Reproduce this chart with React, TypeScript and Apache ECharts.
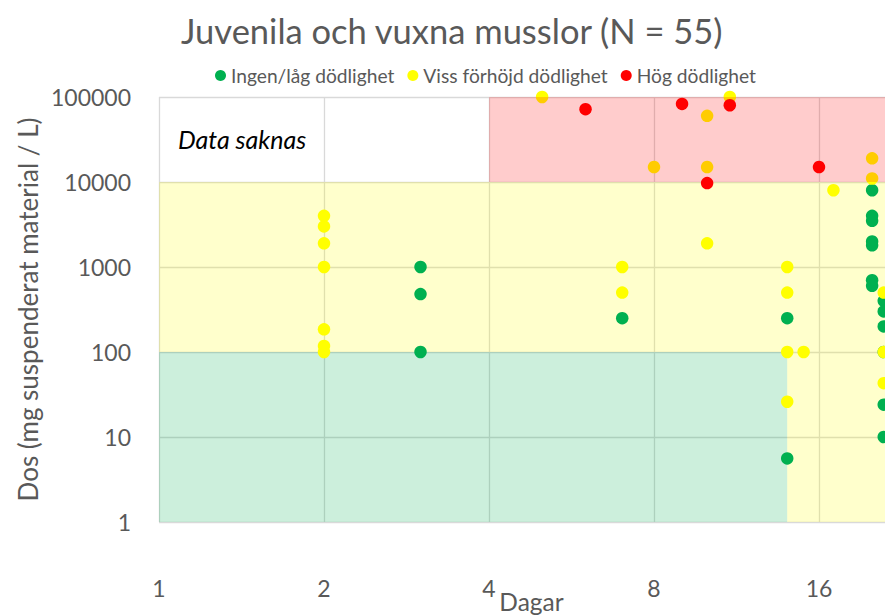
import React, { useEffect, useRef } from "react";
import * as echarts from "echarts";

const titleText = "Juvenila och vuxna musslor (N = 55)";
const xAxisName = "Dagar";
const yAxisName = "Dos (mg suspenderat material / L)";
const noDataText = "Data saknas";

const seriesNames = ["Ingen/låg dödlighet", "Viss förhöjd dödlighet", "Hög dödlighet"];
const seriesColors = ["#00B050", "#FFFF00", "#FF0000"];

const greenDays = [3, 3, 3, 7, 14, 14, 20, 20, 20, 20, 20, 20, 20, 21, 21, 21, 21, 21, 21];
const greenDoses = [1000, 480, 100, 250, 250, 5.6, 8000, 4000, 3500, 2000, 1800, 700, 600, 400, 300, 200, 100, 24, 10];

const yellowDays = [2, 2, 2, 2, 2, 2, 2, 5, 7, 7, 8, 10, 10, 10, 11, 14, 14, 14, 14, 15, 17, 20, 20, 21, 21, 21];
const yellowDoses = [4000, 3000, 1900, 1000, 185, 118, 100, 100000, 1000, 500, 15000, 60000, 15000, 1900, 100000, 1000, 500, 100, 26, 100, 8000, 19000, 11000, 500, 100, 43];

const redDays = [6, 9, 10, 11, 16];
const redDoses = [72000, 83000, 9700, 80000, 15000];

// zones: [day0, dose0, day1, dose1]
const lowZone = [[1, 1, 14, 100]];
const midZone = [[1, 100, 32, 10000], [14, 1, 32, 100]];
const highZone = [[4, 10000, 32, 100000]];

const xTickLabels = [1, 2, 4, 8, 16];
const xMin = 1;
const xMax = 32;
const yMin = 1;
const yMax = 100000;

const zoneColors = ["rgba(0,176,80,0.2)", "rgba(255,255,0,0.2)", "rgba(255,0,0,0.2)"];

const FONT = "Lato, 'Open Sans', sans-serif";
const TEXT_COLOR = "#595959";

function zip(xs: number[], ys: number[]) {
  return xs.map((x, i) => [x, ys[i]]);
}

function rectRender(color: string) {
  return (params: any, api: any) => {
    const p0 = api.coord([api.value(0), api.value(1)]);
    const p1 = api.coord([api.value(2), api.value(3)]);
    return {
      type: "rect",
      shape: {
        x: Math.min(p0[0], p1[0]),
        y: Math.min(p0[1], p1[1]),
        width: Math.abs(p1[0] - p0[0]),
        height: Math.abs(p1[1] - p0[1]),
      },
      style: { fill: color },
    };
  };
}

export default function App() {
  const ref = useRef<HTMLDivElement>(null);
  useEffect(() => {
    if (!ref.current) return;
    const chart = echarts.init(ref.current, undefined, { renderer: "svg" });
    const zoneSeries = (data: number[][], color: string, z: number) => ({
      type: "custom",
      silent: true,
      z,
      clip: true,
      renderItem: rectRender(color),
      encode: { x: [0, 2], y: [1, 3] },
      data,
    });
    const scatter = (i: number, xs: number[], ys: number[]) => ({
      name: seriesNames[i],
      type: "scatter",
      symbol: "circle",
      symbolSize: 12.5,
      z: 2,
      itemStyle: { color: seriesColors[i], opacity: 1 },
      data: zip(xs, ys),
    });
    chart.setOption({
      animation: false,
      backgroundColor: "#ffffff",
      textStyle: { fontFamily: FONT },
      title: {
        text: titleText,
        left: 176,
        top: 8,
        textStyle: { fontFamily: FONT, fontSize: 34.5, fontWeight: "normal", color: TEXT_COLOR },
      },
      legend: {
        data: seriesNames,
        left: 210,
        top: 61,
        icon: "circle",
        itemWidth: 11,
        itemHeight: 11,
        itemGap: 13,
        textStyle: { fontFamily: FONT, fontSize: 19.2, color: TEXT_COLOR },
      },
      grid: { left: 159, top: 97, bottom: 93, right: -99, containLabel: false, outerBoundsMode: "none" },
      xAxis: {
        type: "log",
        logBase: 2,
        min: xMin,
        max: xMax,
        name: xAxisName,
        nameLocation: "middle",
        nameGap: 67,
        nameMoveOverlap: false,
        nameTextStyle: { fontFamily: FONT, fontSize: 24.5, color: TEXT_COLOR, padding: [0, 80, 0, 0] },
        axisLine: { show: false },
        axisTick: { show: false },
        axisLabel: {
          margin: 54,
          fontFamily: FONT,
          fontSize: 23,
          color: TEXT_COLOR,
          formatter: (v: number) => {
            const r = Math.round(v);
            return xTickLabels.indexOf(r) >= 0 ? String(r) : "";
          },
        },
        splitLine: { show: true, lineStyle: { color: "#D9D9D9", width: 1.3 } },
      },
      yAxis: {
        type: "log",
        logBase: 10,
        min: yMin,
        max: yMax,
        name: yAxisName,
        nameLocation: "middle",
        nameRotate: 90,
        nameGap: 118,
        nameMoveOverlap: false,
        nameTextStyle: { fontFamily: FONT, fontSize: 26, color: TEXT_COLOR },
        axisLine: { show: false },
        axisTick: { show: false },
        axisLabel: {
          margin: 28,
          fontFamily: FONT,
          fontSize: 23,
          color: TEXT_COLOR,
          formatter: (v: number) => String(Math.round(v)),
        },
        splitLine: { show: true, lineStyle: { color: "#D9D9D9", width: 1.3 } },
      },
      graphic: [
        {
          type: "text",
          left: 178,
          top: 126,
          silent: true,
          style: {
            text: noDataText,
            font: `italic 25px ${FONT}`,
            fill: "#000000",
          },
        },
      ],
      series: [
        zoneSeries(lowZone, zoneColors[0], 1),
        zoneSeries(midZone, zoneColors[1], 1),
        scatter(0, greenDays, greenDoses),
        scatter(1, yellowDays, yellowDoses),
        scatter(2, redDays, redDoses),
        zoneSeries(highZone, zoneColors[2], 3),
      ],
    });
    return () => chart.dispose();
  }, []);
  return (
    <div
      ref={ref}
      style={{ position: "fixed", left: 0, top: 0, width: 885, height: 615 }}
    />
  );
}
